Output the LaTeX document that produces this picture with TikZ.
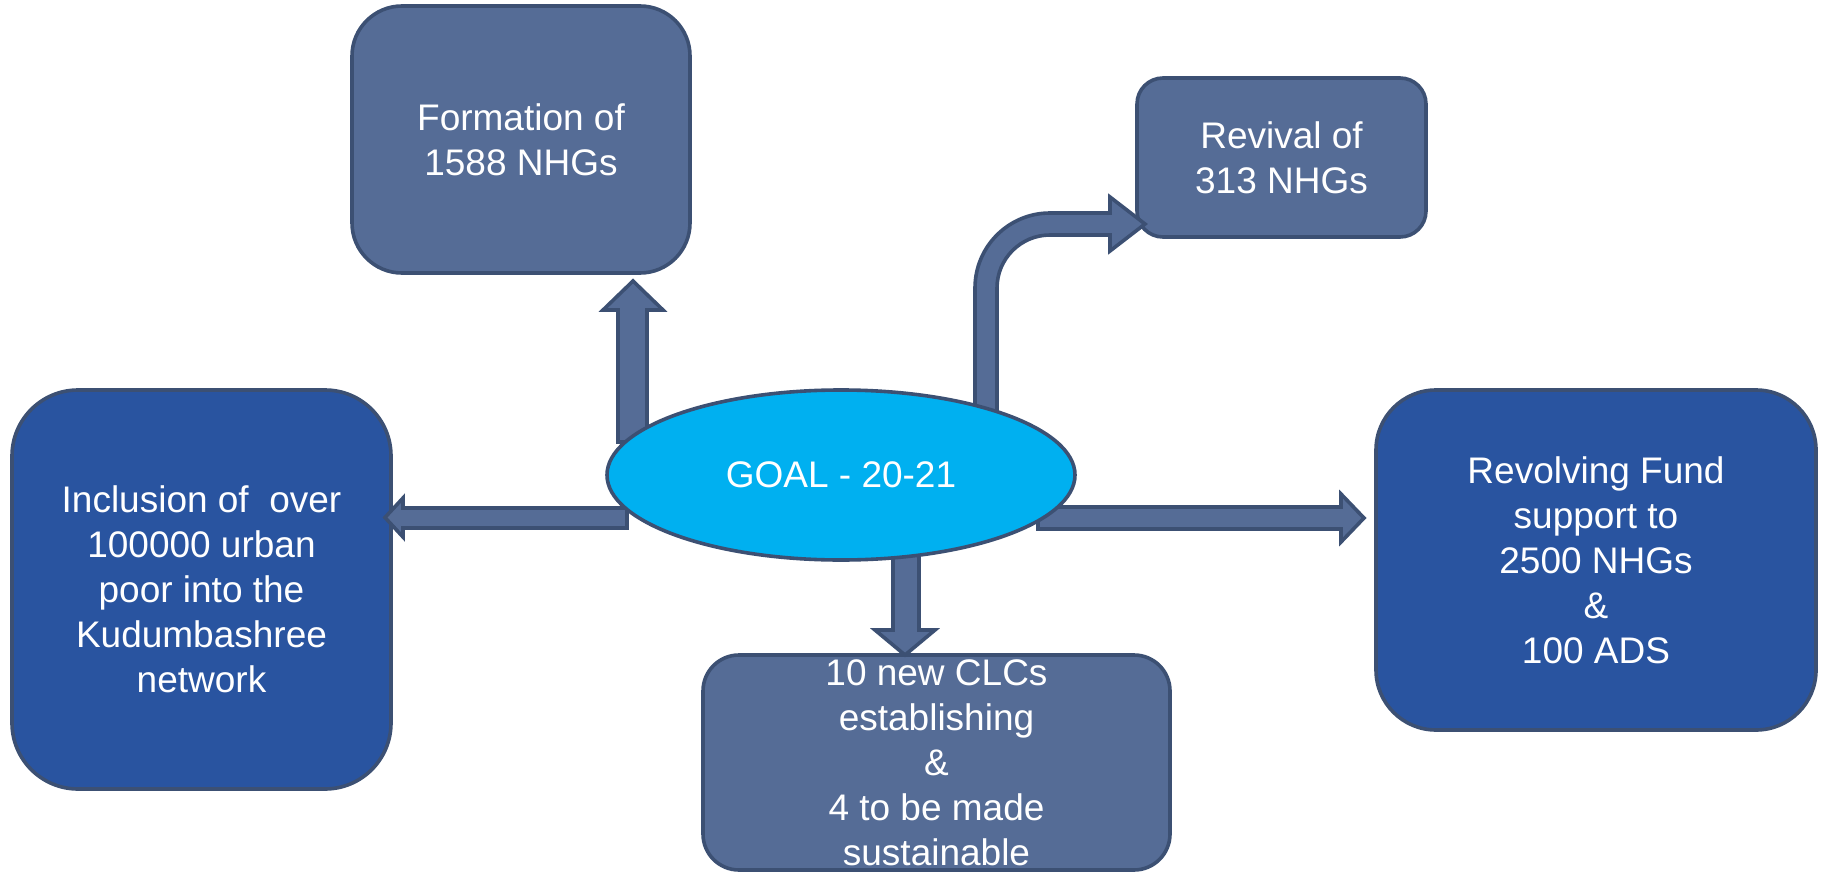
\documentclass[tikz,border=0pt]{standalone}
\usepackage{fontspec}
\setmainfont{Liberation Sans}
\usetikzlibrary{shapes.geometric}
\definecolor{greyblue}{RGB}{85,108,150}
\definecolor{deepblue}{RGB}{41,84,160}
\definecolor{edgecol}{RGB}{60,80,115}
\definecolor{skyfill}{RGB}{0,176,240}
\begin{document}
\begin{tikzpicture}[x=0.5pt,y=-0.5pt,
  boxbase/.style={draw=edgecol, line width=1.8pt, inner sep=0pt, outer sep=0pt},
  greybox/.style={boxbase, fill=greyblue},
  bluebox/.style={boxbase, fill=deepblue},
  txt/.style={text=white, align=center, inner sep=0pt,
    font=\fontsize{18.5}{22.5}\selectfont},
  blockarrow/.style={draw=edgecol, fill=greyblue, line width=1.8pt, line join=miter},
  goalstyle/.style={ellipse, draw=edgecol, fill=skyfill, line width=1.8pt,
    minimum width=234pt, minimum height=85pt, inner sep=0pt,
    text=white, font=\fontsize{18.5}{22.5}\selectfont}]
\useasboundingbox[fill=white] (0,0) rectangle (1826,872);

% boxes
\node[greybox, rounded corners=25pt, minimum width=169pt, minimum height=133.5pt] (form) at (521,139.5) {};
\node[txt] (formt) at (form) {Formation of\\1588 NHGs};

\node[greybox, rounded corners=13pt, minimum width=144.5pt, minimum height=79.5pt] (reviv) at (1281.5,157.5) {};
\node[txt] (revivt) at (reviv) {Revival of\\313 NHGs};

\node[bluebox, rounded corners=33pt, minimum width=189.5pt, minimum height=199.5pt] (incl) at (201.5,589.5) {};
\node[txt] (inclt) at (incl) {Inclusion of\ \ over\\100000 urban\\poor into the\\Kudumbashree\\network};

\node[bluebox, rounded corners=30pt, minimum width=220pt, minimum height=170pt] (revol) at (1596,560) {};
\node[txt] (revolt) at (revol) {Revolving Fund\\support to\\2500 NHGs\\\&\\100 ADS};

\node[greybox, rounded corners=18pt, minimum width=233.5pt, minimum height=107.5pt] (clc) at (936.5,762.5) {};
\node[txt] (clct) at (clc) {10 new CLCs\\establishing\\\&\\4 to be made\\sustainable};

% block arrows
\draw[blockarrow] (618,442) -- (618,310) -- (603,310) -- (633,281) -- (663,310) -- (647,310) -- (647,442) -- cycle;
\draw[blockarrow] (627,508) -- (403,508) -- (403,498) -- (385,517.5) -- (403,537) -- (403,528) -- (627,528) -- cycle;
\draw[blockarrow] (1038,507) -- (1341,507) -- (1341,494) -- (1364,518) -- (1341,542) -- (1341,529) -- (1038,529) -- cycle;
\draw[blockarrow] (893,545) -- (893,630) -- (875,630) -- (905,655) -- (935,630) -- (919,630) -- (919,545) -- cycle;
\draw[blockarrow] (975,420) -- (975,288) arc[start angle=180,end angle=270,radius=75]
  -- (1110,213) -- (1110,197) -- (1145,224) -- (1110,251) -- (1110,235) -- (1050,235)
  arc[start angle=270,end angle=180,radius=53] -- (997,420) -- cycle;

% centre
\node[goalstyle] (goal) at (841,475) {GOAL - 20-21};
\end{tikzpicture}
\end{document}
